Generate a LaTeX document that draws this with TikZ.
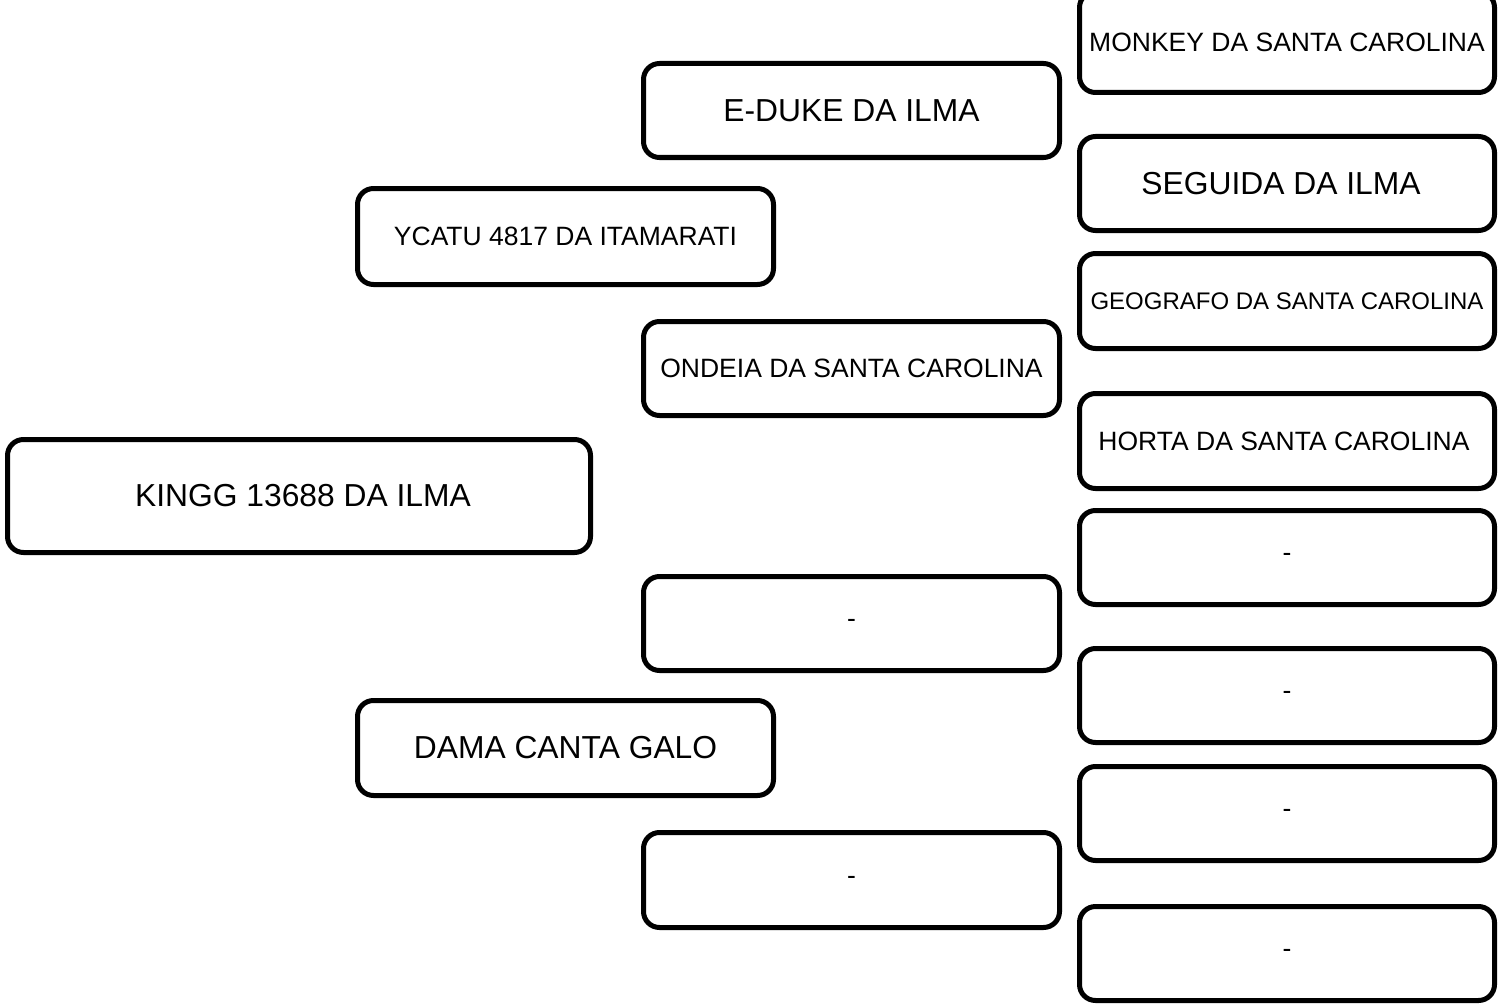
\documentclass[tikz,border=0pt]{standalone}
\usepackage{fontspec}
\setmainfont{Liberation Sans}
\begin{document}
\begin{tikzpicture}[x=0.5pt,y=-0.5pt,
  box/.style={draw=black, line width=2.5pt, rounded corners=8pt, fill=white,
    rectangle, inner sep=0pt, align=center},
  big/.style={font=\fontsize{15.9}{18}\selectfont},
  mid/.style={font=\fontsize{13.25}{15}\selectfont},
  sml/.style={font=\fontsize{12}{14}\selectfont},
  wa/.style={minimum width=291.5pt},
  wb/.style={minimum width=208pt},
  wc/.style={minimum width=207.5pt}]
\useasboundingbox (0,0) rectangle (1499,1006);
\clip (0,0) rectangle (1499,1006);
\node[box,big,wa,minimum height=56.5pt] (kingg) at (299,496) {\hspace*{4pt}KINGG 13688 DA ILMA};
\node[box,mid,wb,minimum height=48pt] (ycatu) at (565.5,236.5) {YCATU 4817 DA ITAMARATI};
\node[box,big,wb,minimum height=47.5pt] (dama) at (565.5,748) {DAMA CANTA GALO};
\node[box,big,wb,minimum height=47pt] (eduke) at (851.5,110.5) {E-DUKE DA ILMA};
\node[box,mid,wb,minimum height=47pt] (ondeia) at (851.5,368.5) {ONDEIA DA SANTA CAROLINA};
\node[box,mid,wb,minimum height=47pt] (da) at (851.5,623.5) {-};
\node[box,mid,wb,minimum height=47.5pt] (db) at (851.5,880) {-};
\node[box,mid,wc,minimum height=50.5pt] (monkey) at (1287,42) {MONKEY DA SANTA CAROLINA};
\node[box,big,wc,minimum height=47pt] (seguida) at (1287,183.5) {SEGUIDA DA ILMA\hspace*{6pt}};
\node[box,sml,wc,minimum height=47.5pt] (geografo) at (1287,301) {GEOGRAFO DA SANTA CAROLINA};
\node[box,mid,wc,minimum height=47.5pt] (horta) at (1287,441) {HORTA DA SANTA CAROLINA\hspace*{3pt}};
\node[box,mid,wc,minimum height=47pt] (dc) at (1287,557.5) {-};
\node[box,mid,wc,minimum height=47pt] (dd) at (1287,695.5) {-};
\node[box,mid,wc,minimum height=47pt] (de) at (1287,813.5) {-};
\node[box,mid,wc,minimum height=47pt] (df) at (1287,953.5) {-};
\end{tikzpicture}
\end{document}
